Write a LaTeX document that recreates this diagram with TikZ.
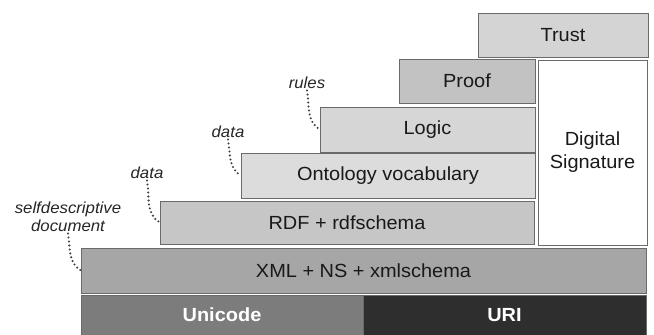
\documentclass[tikz,border=0pt]{standalone}
\usepackage{fontspec}
\setmainfont{Liberation Sans}[FakeStretch=1.05]
\definecolor{cTrust}{HTML}{D4D4D4}
\definecolor{cProof}{HTML}{C2C2C2}
\definecolor{cLogic}{HTML}{D6D6D6}
\definecolor{cOnto}{HTML}{DCDCDC}
\definecolor{cRDF}{HTML}{C6C6C6}
\definecolor{cXML}{HTML}{A6A6A6}
\definecolor{cUni}{HTML}{7C7C7C}
\definecolor{cURI}{HTML}{2E2E2E}
\definecolor{cLine}{HTML}{6A6A6A}
\begin{document}
\begin{tikzpicture}[x=1pt,y=1pt,
  layer/.style={draw=cLine, line width=0.6pt, inner sep=0pt, outer sep=0pt,
    anchor=south west, text=black!90, font=\fontsize{19}{23}\selectfont, align=center},
  darklayer/.style={layer, text=white, font=\fontsize{19}{23}\selectfont\bfseries},
  lab/.style={inner sep=1.5pt, text=black!85, align=center,
    font=\fontsize{16}{18}\selectfont\itshape},
  dots/.style={draw=black!75, line width=2.3pt, dash pattern=on 0pt off 4pt, line cap=round}]
\useasboundingbox (0,0) rectangle (654,335);
\fill[white] (0,0) rectangle (654,335);
% layers
\node[layer, fill=cTrust, minimum width=170, minimum height=44] (trust) at (478,278) {Trust};
\node[layer, fill=cProof, minimum width=136, minimum height=44] (proof) at (399,232) {Proof};
\node[layer, fill=white, minimum width=109, minimum height=185] (sig) at (538,90) {Digital\\Signature};
\node[layer, fill=cLogic, minimum width=215, minimum height=45] (logic) at (320,183) {Logic};
\node[layer, fill=cOnto, minimum width=294, minimum height=45] (onto) at (241,137) {Ontology vocabulary};
\node[layer, fill=cRDF, minimum width=374, minimum height=43] (rdf) at (160,91) {RDF + rdfschema};
\node[layer, fill=cXML, minimum width=565, minimum height=45] (xml) at (81,42) {XML + NS + xmlschema};
\node[darklayer, fill=cUni, minimum width=282, minimum height=40] (uni) at (81,0) {Unicode};
\node[darklayer, fill=cURI, minimum width=283, minimum height=40] (uri) at (363,0) {URI};
% labels
\node[lab] (lsd) at (68,118) {selfdescriptive\\document};
\node[lab] (ld1) at (147,162) {data};
\node[lab] (ld2) at (228,203) {data};
\node[lab] (lru) at (307,252) {rules};
% dotted connectors
\draw[dots] (lsd.south) to[out=-80,in=150] (xml.west);
\draw[dots] (ld1.south) to[out=-80,in=150] (rdf.west);
\draw[dots] (ld2.south) to[out=-80,in=150] (onto.west);
\draw[dots] (lru.south) to[out=-80,in=150] (logic.west);
\end{tikzpicture}
\end{document}
